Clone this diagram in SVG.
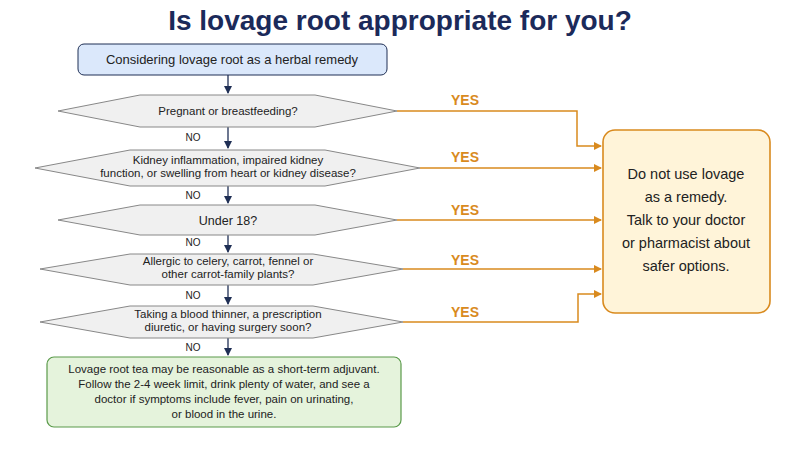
<svg xmlns="http://www.w3.org/2000/svg" width="800" height="450" viewBox="0 0 800 450">
<defs>
<marker id="an" markerWidth="8" markerHeight="8" refX="7" refY="4" orient="auto" markerUnits="userSpaceOnUse"><path d="M0,0 L8,4 L0,8 Z" fill="#1f2f55"/></marker>
<marker id="ao" markerWidth="8" markerHeight="8" refX="7" refY="4" orient="auto" markerUnits="userSpaceOnUse"><path d="M0,0 L8,4 L0,8 Z" fill="#d98a1e"/></marker>
</defs>
<style>
text{font-family:"Liberation Sans",Arial,sans-serif;text-anchor:middle;fill:#222}
.t{font-size:11.5px}
.d{fill:#f0f0f0;stroke:#888;stroke-width:1}
.no{font-size:10px}
.yes{font-size:14px;font-weight:bold;fill:#d98a1e}
.nl{stroke:#1f2f55;stroke-width:1.3;fill:none}
.yl{stroke:#d98a1e;stroke-width:1.5;fill:none}
</style>
<rect width="800" height="450" fill="#fff"/>
<text x="400" y="30" style="font-size:28px;font-weight:bold;fill:#1b2a5a">Is lovage root appropriate for you?</text>
<g id="connectors">
<path class="nl" d="M228,75 V93" marker-end="url(#an)"/>
<path class="nl" d="M228,127 V148" marker-end="url(#an)"/>
<path class="nl" d="M228,186 V203" marker-end="url(#an)"/>
<path class="nl" d="M228,235 V252" marker-end="url(#an)"/>
<path class="nl" d="M228,285 V304" marker-end="url(#an)"/>
<path class="nl" d="M228,338 V355" marker-end="url(#an)"/>
<text class="no" x="193" y="141">NO</text>
<text class="no" x="193" y="199">NO</text>
<text class="no" x="193" y="246">NO</text>
<text class="no" x="193" y="299">NO</text>
<text class="no" x="193" y="351">NO</text>
<path class="yl" d="M397,111 H577 V146 H601" marker-end="url(#ao)"/>
<path class="yl" d="M420,168 H601" marker-end="url(#ao)"/>
<path class="yl" d="M397,220 H601" marker-end="url(#ao)"/>
<path class="yl" d="M403,269 H601" marker-end="url(#ao)"/>
<path class="yl" d="M403,322 H578 V294 H601" marker-end="url(#ao)"/>
<text class="yes" x="465" y="105">YES</text>
<text class="yes" x="465" y="162">YES</text>
<text class="yes" x="465" y="215">YES</text>
<text class="yes" x="465" y="265">YES</text>
<text class="yes" x="465" y="317">YES</text>
</g>
<g id="start">
<rect x="78" y="44" width="309" height="31" rx="6" fill="#dbe8fb" stroke="#1f2f55" stroke-width="1"/>
<text x="232" y="64" style="font-size:13px">Considering lovage root as a herbal remedy</text>
</g>
<g id="q1">
<polygon class="d" points="58,111 140,95 315,95 397,111 315,127 140,127"/>
<text class="t" x="228" y="115">Pregnant or breastfeeding?</text>
</g>
<g id="q2">
<polygon class="d" points="35,168 130,150 325,150 420,168 325,186 130,186"/>
<text class="t" x="228" y="164">Kidney inflammation, impaired kidney</text>
<text class="t" x="228" y="177">function, or swelling from heart or kidney disease?</text>
</g>
<g id="q3">
<polygon class="d" points="58,220 140,205 315,205 397,220 315,235 140,235"/>
<text x="228" y="225" style="font-size:12.5px">Under 18?</text>
</g>
<g id="q4">
<polygon class="d" points="40,269 130,254 313,254 403,269 313,285 130,285"/>
<text class="t" x="228" y="265">Allergic to celery, carrot, fennel or</text>
<text class="t" x="228" y="278">other carrot-family plants?</text>
</g>
<g id="q5">
<polygon class="d" points="40,322 130,306 313,306 403,322 313,338 130,338"/>
<text class="t" x="228" y="318">Taking a blood thinner, a prescription</text>
<text class="t" x="228" y="331">diuretic, or having surgery soon?</text>
</g>
<g id="ok">
<rect x="47" y="357" width="354" height="70" rx="7" fill="#e5f3dc" stroke="#5a9a4a" stroke-width="1.2"/>
<text class="t" x="224" y="373">Lovage root tea may be reasonable as a short-term adjuvant.</text>
<text class="t" x="224" y="388">Follow the 2-4 week limit, drink plenty of water, and see a</text>
<text class="t" x="224" y="403">doctor if symptoms include fever, pain on urinating,</text>
<text class="t" x="224" y="418">or blood in the urine.</text>
</g>
<g id="stop">
<rect x="603" y="130" width="167" height="183" rx="12" fill="#fff4d9" stroke="#d98a1e" stroke-width="1.6"/>
<text x="686" y="179" style="font-size:14.5px">Do not use lovage</text>
<text x="686" y="202" style="font-size:14.5px">as a remedy.</text>
<text x="686" y="225" style="font-size:14.5px">Talk to your doctor</text>
<text x="686" y="248" style="font-size:14.5px">or pharmacist about</text>
<text x="686" y="271" style="font-size:14.5px">safer options.</text>
</g>
</svg>
